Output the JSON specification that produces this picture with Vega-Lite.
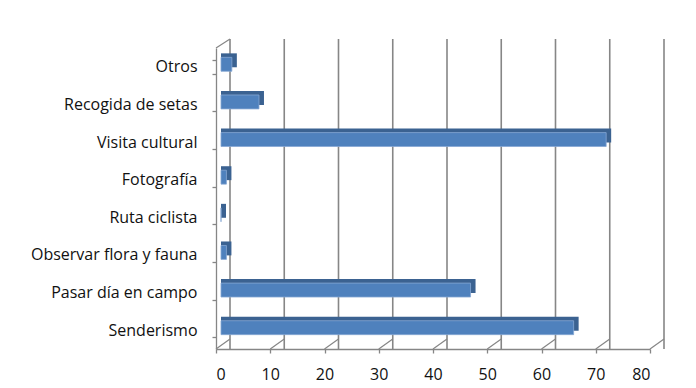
{
  "$schema": "https://vega.github.io/schema/vega-lite/v6.json",
  "width": 434,
  "height": 301,
  "autosize": "none",
  "padding": {"left": 216, "top": 48, "right": 46, "bottom": 39},
  "background": "white",
  "config": {"view": {"stroke": null}, "font": "Open Sans"},
  "datasets": {
    "bars": [
      {"cat": "Otros", "value": 2},
      {"cat": "Recogida de setas", "value": 7},
      {"cat": "Visita cultural", "value": 71},
      {"cat": "Fotografía", "value": 1},
      {"cat": "Ruta ciclista", "value": 0},
      {"cat": "Observar flora y fauna", "value": 1},
      {"cat": "Pasar día en campo", "value": 46},
      {"cat": "Senderismo", "value": 65}
    ],
    "grid": [
      {"v": 0}, {"v": 10}, {"v": 20}, {"v": 30}, {"v": 40},
      {"v": 50}, {"v": 60}, {"v": 70}, {"v": 80}
    ],
    "wall": [{"v": 0}]
  },
  "layer": [
    {
      "data": {"name": "grid"},
      "mark": {"type": "rule", "color": "#868686", "strokeWidth": 1.6, "xOffset": 14, "yOffset": -9, "y2Offset": -10},
      "encoding": {
        "x": {
          "field": "v", "type": "quantitative",
          "scale": {"domain": [0, 80], "nice": false},
          "axis": {
            "title": null, "grid": false, "values": [0, 10, 20, 30, 40, 50, 60, 70, 80],
            "tickSize": 4, "tickColor": "#868686", "tickWidth": 1.3,
            "domainColor": "#868686", "domainWidth": 1.3, "labelPadding": 13,
            "labelFontSize": 16, "labelColor": "#111111", "labelFont": "Open Sans"
          }
        }
      }
    },
    {
      "data": {"name": "grid"},
      "mark": {"type": "rule", "color": "#868686", "strokeWidth": 1.2, "x2Offset": 14, "y2Offset": -10},
      "encoding": {
        "x": {"field": "v", "type": "quantitative", "scale": {"domain": [0, 80], "nice": false}},
        "x2": {"field": "v"},
        "y": {"value": "height"},
        "y2": {"value": "height"}
      }
    },
    {
      "data": {"name": "wall"},
      "mark": {"type": "rule", "color": "#868686", "strokeWidth": 1.2, "x2Offset": 14, "y2Offset": -9},
      "encoding": {
        "x": {"field": "v", "type": "quantitative", "scale": {"domain": [0, 80], "nice": false}},
        "x2": {"field": "v"},
        "y": {"value": 0},
        "y2": {"value": 0}
      }
    },
    {
      "data": {"name": "bars"},
      "mark": {"type": "bar", "color": "#3B6291", "xOffset": 10, "x2Offset": 5, "yOffset": -6.5},
      "encoding": {
        "y": {
          "field": "cat", "type": "nominal", "sort": null,
          "scale": {"paddingInner": 0.63, "paddingOuter": 0.315},
          "axis": {
            "title": null, "tickBand": "extent", "tickSize": 4, "tickColor": "#868686", "tickWidth": 1.3,
            "domainColor": "#868686", "domainWidth": 1.3, "labelPadding": 15,
            "labelFontSize": 16, "labelColor": "#111111", "labelFont": "Open Sans"
          }
        },
        "x": {"field": "value", "type": "quantitative", "scale": {"domain": [0, 80], "nice": false}},
        "x2": {"datum": 0}
      }
    },
    {
      "data": {"name": "bars"},
      "mark": {"type": "bar", "color": "#4F81BD", "stroke": "#86A7D3", "strokeWidth": 0.8, "xOffset": 5, "x2Offset": 5, "yOffset": -2.5},
      "encoding": {
        "y": {"field": "cat", "type": "nominal", "sort": null, "scale": {"paddingInner": 0.63, "paddingOuter": 0.315}},
        "x": {"field": "value", "type": "quantitative", "scale": {"domain": [0, 80], "nice": false}},
        "x2": {"datum": 0}
      }
    }
  ]
}
